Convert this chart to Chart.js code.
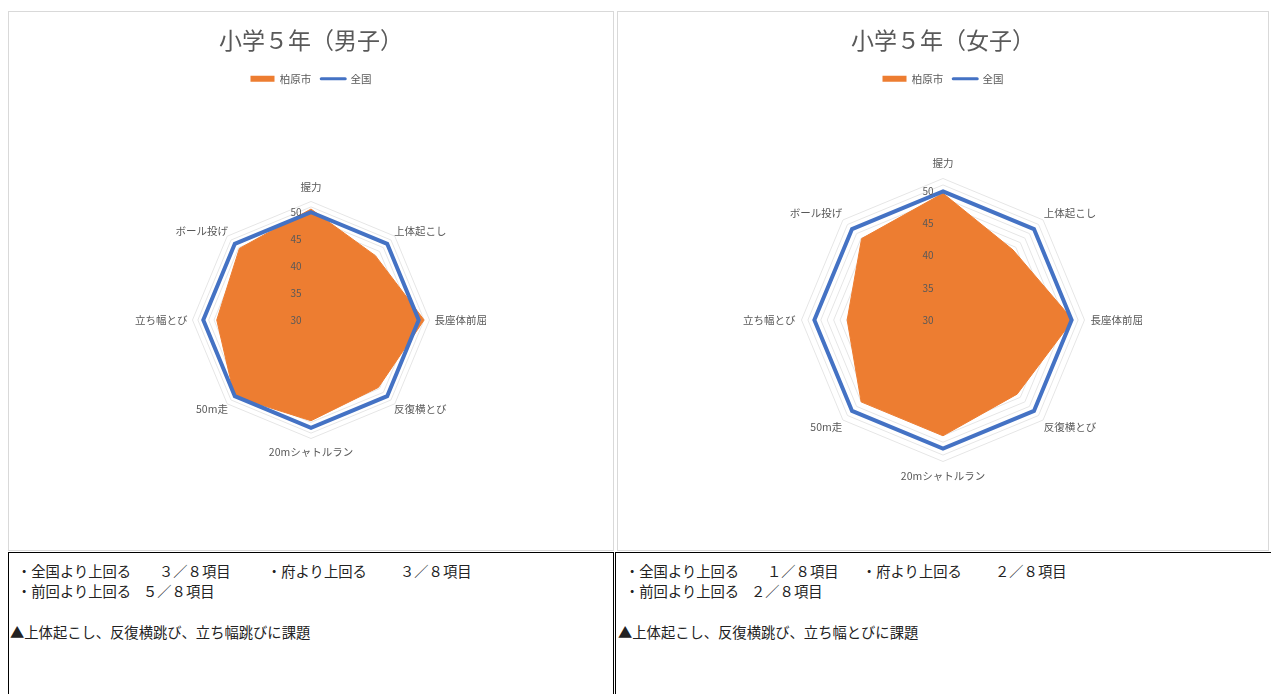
<!DOCTYPE html>
<html><head><meta charset="utf-8">
<script src="https://cdn.jsdelivr.net/npm/chart.js@4.4.1/dist/chart.umd.min.js"></script>
<style>
html,body{margin:0;padding:0;background:#fff;width:1271px;height:694px;overflow:hidden;position:relative;}
.panel{position:absolute;border:1px solid #d9d9d9;box-sizing:border-box;background:#fff;}
.panel .wrap{position:absolute;left:0;top:0;right:0;bottom:0;}
.note{position:absolute;border:1px solid #000;box-sizing:border-box;background:#fff;}
.t{position:absolute;font-family:'Noto Sans CJK JP',sans-serif;font-size:14.3px;color:#222;white-space:nowrap;line-height:20px;height:20px;}
</style></head>
<body>
<div class="panel" style="left:8px;top:11px;width:606px;height:540px;"><div class="wrap"><canvas id="boys"></canvas></div></div>
<div class="panel" style="left:617px;top:11px;width:652px;height:540px;"><div class="wrap"><canvas id="girls"></canvas></div></div>
<div class="note" style="left:8px;top:552px;width:606px;height:160px;"></div>
<div class="note" style="left:615px;top:552px;width:700px;height:160px;"></div>
<div id="notes"></div>
<script>
// ---- data ----
const CATEGORIES = ['握力','上体起こし','長座体前屈','反復横とび','20mシャトルラン','50m走','立ち幅とび','ボール投げ'];
const SERIES_NAMES = ['柏原市','全国'];
const BOYS_CITY = [50.6, 46.9, 51.0, 47.7, 48.7, 50.1, 47.5, 48.8];
const BOYS_NATIONAL = [50, 50, 50, 50, 50, 50, 50, 50];
const GIRLS_CITY = [49.7, 45.4, 50.2, 46.3, 48.0, 48.0, 44.9, 47.9];
const GIRLS_NATIONAL = [50, 50, 50, 50, 50, 50, 50, 50];
const TICK_LABELS = ['30','35','40','45','50'];
const TITLES = ['小学５年（男子）','小学５年（女子）'];

// ---- notes text ----
const NOTES = [
  [17, 571, '・全国より上回る'], [159, 571, '３／８項目'], [267, 571, '・府より上回る'], [400, 571, '３／８項目'],
  [17, 591, '・前回より上回る'], [143, 591, '５／８項目'],
  [10, 632, '▲上体起こし、反復横跳び、立ち幅跳びに課題'],
  [625, 571, '・全国より上回る'], [767, 571, '１／８項目'], [862, 571, '・府より上回る'], [995, 571, '２／８項目'],
  [625, 591, '・前回より上回る'], [751, 591, '２／８項目'],
  [618, 632, '▲上体起こし、反復横跳び、立ち幅とびに課題']
];
const notesEl = document.getElementById('notes');
NOTES.forEach(([x, y, s]) => {
  const d = document.createElement('div');
  d.className = 't';
  d.style.left = x + 'px';
  d.style.top = (y - 10) + 'px';
  d.textContent = s;
  notesEl.appendChild(d);
});

// ---- charts ----
const ORANGE = '#ED7D31';
const BLUE = '#4472C4';
Chart.defaults.font.family = "'Noto Sans CJK JP', 'Noto Sans', sans-serif";
Chart.defaults.color = '#595959';

function makeChart(id, title, cityVals, natVals, cfg) {
  return new Chart(document.getElementById(id), {
    type: 'radar',
    data: {
      labels: CATEGORIES,
      datasets: [
        { label: SERIES_NAMES[0], data: cityVals, backgroundColor: ORANGE, borderColor: ORANGE,
          borderWidth: 1, fill: 'start', pointRadius: 0, pointHoverRadius: 0, order: 1 },
        { label: SERIES_NAMES[1], data: natVals, backgroundColor: 'rgba(0,0,0,0)', borderColor: BLUE,
          borderWidth: 4, fill: false, pointRadius: 0, pointHoverRadius: 0, borderJoinStyle: 'miter', order: 0 }
      ]
    },
    options: {
      responsive: true,
      maintainAspectRatio: false,
      animation: false,
      layout: { padding: { left: cfg.padL, right: cfg.padR, top: 0, bottom: cfg.padB } },
      plugins: {
        title: { display: true, text: title, color: '#595959', font: { size: 23, weight: 'normal' },
                 padding: { top: 14, bottom: 10 } },
        legend: {
          position: 'top',
          labels: {
            usePointStyle: true, pointStyleWidth: 24, boxWidth: 24, boxHeight: 6, padding: 10,
            color: '#595959', font: { size: 10.5 },
            generateLabels: chart => chart.data.datasets.map((ds, i) => ({
              text: ds.label, datasetIndex: i, hidden: false,
              fillStyle: i === 0 ? ORANGE : BLUE,
              strokeStyle: i === 0 ? ORANGE : BLUE,
              lineWidth: i === 0 ? 0 : 3,
              lineCap: 'round',
              pointStyle: i === 0 ? 'rect' : 'line',
              fontColor: '#595959'
            }))
          }
        },
        tooltip: { enabled: false }
      },
      scales: {
        r: {
          min: 30, max: 52,
          afterBuildTicks: s => { s.ticks.unshift({ value: s.min }); },
          ticks: {
            stepSize: 1, maxTicksLimit: 40, z: 1, showLabelBackdrop: false,
            color: '#595959', font: { size: 10 },
            callback: v => TICK_LABELS.includes(String(v)) ? String(v) + '\u2003\u2003\u2003' : ''
          },
          grid: { color: '#e6e6e6', lineWidth: 1, circular: false },
          angleLines: { display: false },
          pointLabels: {
            color: '#595959', font: { size: 10.5 },
            padding: ctx => cfg.pads[ctx.index]
          }
        }
      }
    }
  });
}

makeChart('boys', TITLES[0], BOYS_CITY, BOYS_NATIONAL, { padL: 126, padR: 126, padB: 3, pads: [1, -8, -2, -8, 0, -8, -2, -8] });
makeChart('girls', TITLES[1], GIRLS_CITY, GIRLS_NATIONAL, { padL: 125, padR: 125, padB: 3, pads: [2, -6, -1, -6, 1, -6, -1, -6] });
</script>
</body></html>
